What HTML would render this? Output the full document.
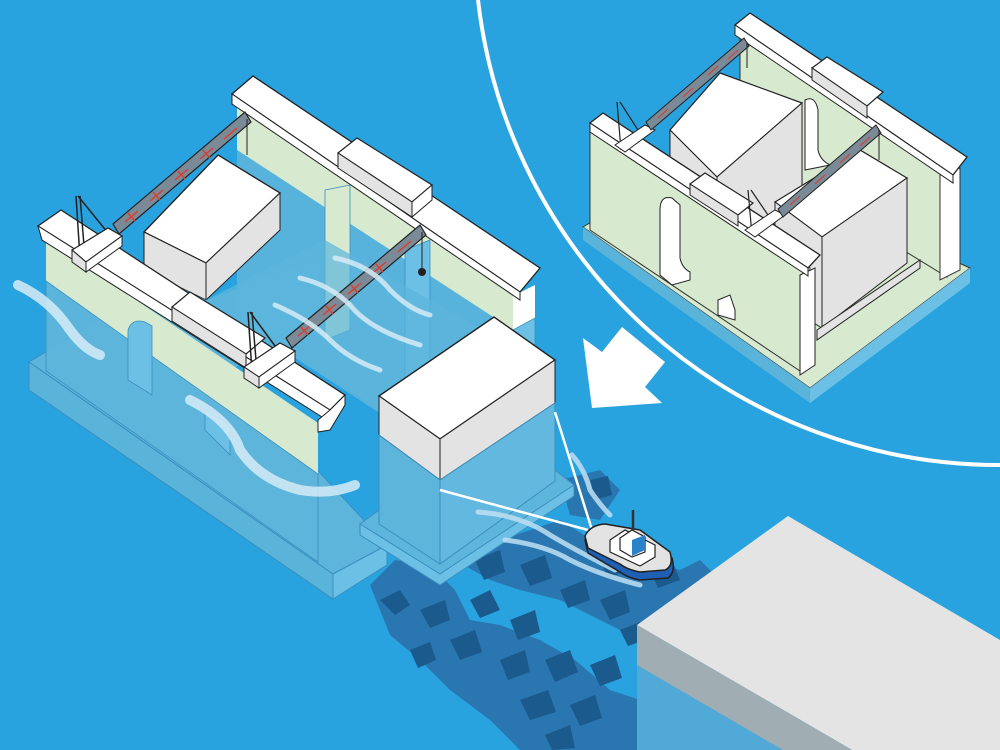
<!DOCTYPE html>
<html><head><meta charset="utf-8"><style>html,body{margin:0;padding:0;background:#29a3df;}svg{display:block}</style></head>
<body>
<svg width="1000" height="750" viewBox="0 0 1000 750" xmlns="http://www.w3.org/2000/svg">
<rect width="1000" height="750" fill="#29a3df"/>

<g fill="#2a76b0">
<polygon points="370,585 395,560 430,565 455,590 470,620 500,625 540,640 575,660 610,690 640,700 650,750 520,750 490,720 450,690 420,660 390,635"/>
<polygon points="455,560 500,540 560,520 600,545 640,560 680,570 700,560 720,580 690,600 660,620 640,640 600,620 560,600 520,590 490,580"/>
<polygon points="560,480 600,470 620,490 600,520 570,515"/>
</g>
<g fill="#1b5a8c">
<polygon points="380,600 400,590 410,605 395,615"/><polygon points="420,610 445,600 450,620 430,628"/>
<polygon points="470,600 490,590 500,610 480,618"/><polygon points="510,620 535,610 540,632 518,640"/>
<polygon points="450,640 475,630 482,652 460,660"/><polygon points="500,660 525,650 530,672 508,680"/>
<polygon points="545,660 570,650 578,672 555,682"/><polygon points="520,700 548,690 556,712 530,720"/>
<polygon points="570,705 595,695 602,718 580,726"/><polygon points="590,665 615,655 622,678 600,686"/>
<polygon points="475,560 500,550 505,572 484,580"/><polygon points="520,565 545,555 552,578 530,586"/>
<polygon points="560,590 585,580 590,600 568,608"/><polygon points="600,600 625,590 630,612 610,620"/>
<polygon points="600,560 622,550 628,570 608,578"/><polygon points="650,570 672,560 680,580 658,588"/>
<polygon points="620,630 640,622 645,640 628,646"/><polygon points="545,735 570,725 575,748 552,750"/>
<polygon points="410,650 430,642 436,660 418,668"/><polygon points="590,480 608,476 612,495 594,500"/>
</g>

<polygon points="29,362 150,290 387,545 333,574" fill="#5db5dc" stroke="#3a8fbe" stroke-width="1"/>
<polygon points="29,362 333,574 333,599 29,390" fill="#5ab3d9" stroke="#3a8fbe" stroke-width="1"/>
<polygon points="333,574 387,545 387,565 333,599" fill="#6cc0e6" stroke="#3a8fbe" stroke-width="1"/>
<polygon points="237,99 513,296 513,330 237,150" fill="#d7e9cf"/>
<polygon points="237,150 513,330 513,500 237,320" fill="#5db5dc" opacity="0.9"/>
<polygon points="513,296 535,285 535,330 513,345" fill="#fff"/>
<polygon points="513,330 535,318 535,480 513,495" fill="#6cc0e6" stroke="#3a8fbe" stroke-width="0.8"/>
<polygon points="232,94 253,76 540,268 520,292" fill="#fff" stroke="#222" stroke-width="1.3"/>
<polygon points="232,94 520,292 520,300 232,104" fill="#fff" stroke="#222" stroke-width="1"/>
<polygon points="338,153 357,138 432,185 412,202" fill="#fff" stroke="#222" stroke-width="1.2"/>
<polygon points="338,153 412,202 412,217 338,168" fill="#e3e3e3" stroke="#222" stroke-width="1"/>
<polygon points="412,202 432,185 432,200 412,217" fill="#fff" stroke="#222" stroke-width="1"/>
<polygon points="325,190 350,185 350,330 325,340" fill="#d7e9cf" stroke="#3a8fbe" stroke-width="0.8"/>
<polygon points="405,250 430,240 430,410 405,420" fill="#6cc0e6" stroke="#3a8fbe" stroke-width="0.8"/>
<polygon points="144,232 218,155 280,193 206,263" fill="#fff" stroke="#222" stroke-width="1.3"/>
<polygon points="144,232 206,263 206,300 144,270" fill="#e3e3e3" stroke="#222" stroke-width="1"/>
<polygon points="206,263 280,193 280,230 206,300" fill="#e3e3e3" stroke="#222" stroke-width="1"/>
<polygon points="144,270 206,300 320,260 320,330 206,380 144,340" fill="#5db5dc" opacity="0.85"/>
<polygon points="206,300 325,240 500,340 380,410" fill="#5db5dc" opacity="0.7"/>
<polygon points="46,239 318,423 318,474 46,281" fill="#d7e9cf"/>
<polygon points="46,281 318,474 318,562 46,371" fill="#5db5dc" opacity="0.95" stroke="#3a8fbe" stroke-width="0.8"/>
<path d="M128,380 L128,330 Q132,318 145,322 L152,326 L152,395 Z" fill="#6cc0e6" stroke="#3a8fbe" stroke-width="0.8"/>
<path d="M205,430 L205,410 L230,425 L230,455 Z" fill="#6cc0e6" stroke="#3a8fbe" stroke-width="0.8"/>
<polygon points="38,226 61,210 345,395 330,410" fill="#fff" stroke="#222" stroke-width="1.3"/>
<polygon points="38,226 330,410 330,422 42,240" fill="#fff" stroke="#222" stroke-width="1"/>
<polygon points="318,420 330,410 345,395 345,405 330,430 318,432" fill="#fff" stroke="#222" stroke-width="1"/>
<polygon points="172,307 190,292 265,338 246,354" fill="#fff" stroke="#222" stroke-width="1.2"/>
<polygon points="172,307 246,354 246,368 172,321" fill="#e3e3e3" stroke="#222" stroke-width="1"/>
<g stroke="#222" stroke-width="1.5" fill="none">
<line x1="76" y1="196" x2="80" y2="258"/><line x1="80" y1="196" x2="85" y2="258"/><line x1="78" y1="196" x2="108" y2="233"/>
<line x1="248" y1="312" x2="252" y2="372"/><line x1="252" y1="312" x2="257" y2="372"/><line x1="250" y1="312" x2="278" y2="350"/>
</g>
<polygon points="72,250 108,228 122,236 86,262" fill="#fff" stroke="#222" stroke-width="1.2"/>
<polygon points="72,250 86,262 86,272 72,262" fill="#e3e3e3" stroke="#222" stroke-width="1"/>
<polygon points="86,262 122,236 122,246 86,272" fill="#fff" stroke="#222" stroke-width="1"/>
<polygon points="244,367 280,343 295,351 259,377" fill="#fff" stroke="#222" stroke-width="1.2"/>
<polygon points="244,367 259,377 259,388 244,378" fill="#e3e3e3" stroke="#222" stroke-width="1"/>
<polygon points="259,377 295,351 295,362 259,388" fill="#fff" stroke="#222" stroke-width="1"/>
<polygon points="113,224 245,112 251,122 119,234" fill="#7a8a96" stroke="#222" stroke-width="1.2"/>
<polygon points="286,338 420,225 426,235 292,348" fill="#7a8a96" stroke="#222" stroke-width="1.2"/>
<g stroke="#e23a2c" stroke-width="1.4">
<path d="M125,222 L138,211 M128,213 L135,221 M150,201 L163,190 M153,192 L160,200 M175,180 L188,169 M178,171 L185,179 M200,159 L213,148 M203,150 L210,158 M224,139 L237,128"/>
<path d="M298,336 L311,325 M301,327 L308,335 M323,315 L336,304 M326,306 L333,314 M348,294 L361,283 M351,285 L358,293 M373,273 L386,262 M376,264 L383,272 M398,252 L411,241"/>
</g>
<g stroke="#222" stroke-width="1"><line x1="247" y1="119" x2="247" y2="155"/><line x1="422" y1="232" x2="422" y2="268"/></g>
<circle cx="422" cy="272" r="4" fill="#222"/>

<g fill="none" stroke="#d6ecf7" stroke-linecap="round" opacity="0.85">
<path d="M18,285 Q50,300 70,330 Q85,350 100,355" stroke-width="10"/>
<path d="M190,400 Q230,420 240,450 Q260,480 300,490 Q330,495 355,485" stroke-width="10"/>
<path d="M335,258 Q370,265 390,290 Q410,310 430,315" stroke-width="5"/>
<path d="M300,278 Q330,285 350,305 Q370,330 420,345" stroke-width="5"/>
<path d="M275,305 Q310,320 330,340 Q350,360 380,370" stroke-width="5"/>
</g>

<polygon points="360,524 379,512 574,485 574,496 440,585 360,535" fill="#6cc0e6" stroke="#3a8fbe" stroke-width="1"/>
<polygon points="360,524 440,574 574,485 555,470 379,510" fill="#5db5dc" stroke="#3a8fbe" stroke-width="1"/>
<polygon points="379,396 494,317 555,360 440,439" fill="#fff" stroke="#222" stroke-width="1.4"/>
<polygon points="379,396 440,439 440,480 379,435" fill="#e3e3e3" stroke="#222" stroke-width="1"/>
<polygon points="440,439 555,360 555,403 440,480" fill="#e3e3e3" stroke="#222" stroke-width="1"/>
<polygon points="379,435 440,480 440,564 379,524" fill="#5db5dc" stroke="#3a8fbe" stroke-width="1"/>
<polygon points="440,480 555,403 555,481 440,564" fill="#62b8df" stroke="#3a8fbe" stroke-width="1"/>

<g stroke="#fff" stroke-width="2.5"><line x1="555" y1="412" x2="592" y2="530"/><line x1="440" y1="490" x2="588" y2="530"/></g>
<g fill="none" stroke="#bfe0f3" stroke-linecap="round" opacity="0.85" stroke-width="5">
<path d="M478,512 Q520,515 550,535 Q575,550 615,570"/>
<path d="M505,540 Q545,545 570,560 Q600,575 640,585"/>
<path d="M572,455 Q585,470 590,490 Q600,505 610,515"/>
</g>

<g>
<path d="M585,540 Q590,528 605,527 L640,533 L672,558 Q676,572 668,578 L640,580 Q628,578 620,572 L588,553 Z" fill="#1f5fb4" stroke="#222" stroke-width="1.5"/>
<path d="M585,536 Q590,525 605,524 L640,530 L670,552 Q674,566 665,570 L640,572 Q628,570 620,564 L588,548 Z" fill="#e3e3e3" stroke="#222" stroke-width="1.5"/>
<polygon points="610,540 625,530 655,545 655,557 640,566 610,552" fill="#fff" stroke="#222" stroke-width="1.2"/>
<polygon points="620,538 632,530 645,537 645,552 632,557 620,550" fill="#fff" stroke="#222" stroke-width="1.2"/>
<polygon points="632,540 645,535 645,550 632,556" fill="#2b82c9"/>
<line x1="633" y1="530" x2="633" y2="510" stroke="#333" stroke-width="2.5"/>
</g>

<polygon points="637,625 788,516 1000,640 1000,750 852,750" fill="#e4e4e4"/>
<polygon points="637,625 852,750 637,750" fill="#50a9d6"/>
<polygon points="637,625 852,750 783,750 637,665" fill="#a0adb3"/>

<path d="M478,0 A525,525 0 0 0 1000,465" fill="none" stroke="#fff" stroke-width="4"/>
<polygon points="592,408 583,338 602,352 622,327 665,362 645,387 662,403" fill="#fff"/>

<polygon points="583,227 712,150 970,268 810,388" fill="#d7e9cf" stroke="#333" stroke-width="1"/>
<polygon points="583,227 810,388 810,403 583,240" fill="#5ab3d9"/>
<polygon points="810,388 970,268 970,283 810,403" fill="#6cc0e6"/>
<polygon points="740,25 953,172 947,277 740,150" fill="#d7e9cf" stroke="#333" stroke-width="1"/>
<polygon points="940,175 960,168 960,270 940,280" fill="#fff" stroke="#333" stroke-width="1"/>
<polygon points="735,25 750,13 967,157 953,175" fill="#fff" stroke="#222" stroke-width="1.3"/>
<polygon points="735,25 953,175 953,183 735,35" fill="#fff" stroke="#222" stroke-width="1"/>
<polygon points="812,68 827,57 883,92 867,106" fill="#fff" stroke="#222" stroke-width="1.2"/>
<polygon points="812,68 867,106 867,118 812,80" fill="#e3e3e3" stroke="#222" stroke-width="1"/>
<polygon points="670,130 720,73 802,103 717,177" fill="#fff" stroke="#222" stroke-width="1.2"/>
<polygon points="670,130 717,177 717,253 670,230" fill="#e3e3e3" stroke="#222" stroke-width="1"/>
<polygon points="717,177 802,103 802,220 717,253" fill="#e3e3e3" stroke="#222" stroke-width="1"/>
<path d="M805,100 Q815,95 818,110 L818,150 Q820,160 830,165 L805,170 Z" fill="#fff" stroke="#222" stroke-width="1"/>
<polygon points="775,202 860,150 907,178 822,237" fill="#fff" stroke="#222" stroke-width="1.2"/>
<polygon points="775,202 822,237 822,328 775,300" fill="#e3e3e3" stroke="#222" stroke-width="1"/>
<polygon points="822,237 907,178 907,263 822,328" fill="#e3e3e3" stroke="#222" stroke-width="1"/>
<polygon points="817,330 920,260 920,268 817,340" fill="#e3e3e3" stroke="#222" stroke-width="1"/>
<polygon points="590,123 810,268 803,373 590,230" fill="#d7e9cf" stroke="#333" stroke-width="1"/>
<path d="M660,210 Q660,195 672,198 L680,205 L680,258 Q682,268 690,272 L690,280 L672,285 L660,275 Z" fill="#fff" stroke="#222" stroke-width="1"/>
<path d="M718,300 L730,295 L735,310 L735,320 L718,315 Z" fill="#fff" stroke="#222" stroke-width="1"/>
<polygon points="800,275 815,268 815,365 800,375" fill="#fff" stroke="#222" stroke-width="1"/>
<polygon points="590,123 603,113 820,255 808,268" fill="#fff" stroke="#222" stroke-width="1.3"/>
<polygon points="590,123 808,268 808,276 590,132" fill="#fff" stroke="#222" stroke-width="1"/>
<polygon points="690,184 705,173 753,203 738,215" fill="#fff" stroke="#222" stroke-width="1.2"/>
<polygon points="690,184 738,215 738,226 690,195" fill="#e3e3e3" stroke="#222" stroke-width="1"/>
<g stroke="#222" stroke-width="1.2" fill="none">
<line x1="617" y1="102" x2="621" y2="150"/><line x1="620" y1="102" x2="638" y2="130"/>
<line x1="748" y1="190" x2="752" y2="235"/><line x1="751" y1="190" x2="770" y2="218"/>
</g>
<polygon points="615,145 645,125 655,130 625,152" fill="#fff" stroke="#222" stroke-width="1"/>
<polygon points="745,230 775,210 785,215 755,237" fill="#fff" stroke="#222" stroke-width="1"/>
<polygon points="646,122 744,38 749,46 651,130" fill="#7a8a96" stroke="#222" stroke-width="1"/>
<polygon points="778,209 876,125 881,133 783,217" fill="#7a8a96" stroke="#222" stroke-width="1"/>
<g stroke="#e23a2c" stroke-width="1.1"><path d="M658,118 L668,109 M683,97 L693,88 M708,75 L718,66 M728,59 L738,50 M790,205 L800,196 M815,184 L825,175 M840,163 L850,154 M860,146 L870,137"/></g>
<g stroke="#222" stroke-width="1"><line x1="747" y1="42" x2="747" y2="68"/><line x1="879" y1="130" x2="879" y2="160"/></g>
</svg>
</body></html>
